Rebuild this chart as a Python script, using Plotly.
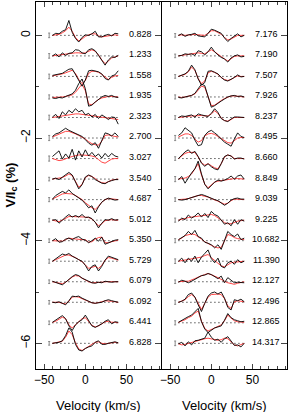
import plotly.graph_objects as go
from plotly.subplots import make_subplots

velocity = [-40, -36, -32, -28, -24, -20, -16, -12, -8, -4, 0, 4, 8, 12, 16, 20, 24, 28, 32, 36, 40]

left_labels = ["0.828", "1.233", "1.558", "1.935", "2.323", "2.700", "3.027", "3.540",
               "4.687", "5.012", "5.350", "5.729", "6.079", "6.092", "6.441", "6.828"]
right_labels = ["7.176", "7.190", "7.507", "7.926", "8.237", "8.495", "8.660", "8.849",
                "9.039", "9.225", "10.682", "11.390", "12.127", "12.496", "12.865", "14.317"]

left_obs = [
    [0, .04, .03, .08, .11, .29, .06, -.06, -.13, -.04, .01, 0, .03, .08, -.03, -.03, 0, .02, -.01, .04, .03],
    [0, .04, -.02, .06, .01, .05, .06, .12, .11, .06, .04, .12, .14, .10, .01, -.08, -.18, -.08, -.02, -.03, .01],
    [.02, .03, .05, .06, .10, .14, .15, .03, -.10, -.19, -.07, .11, .12, .11, .09, .05, -.04, -.07, .01, .03, .11],
    [-.02, -.03, -.01, -.02, .01, .03, .06, .13, .26, .35, .16, -.18, -.16, -.10, -.05, 0, .03, .01, .03, 0, -.01],
    [.01, .06, -.02, .11, .05, .14, .09, .17, .11, .14, .05, .08, .01, .06, -.02, .05, .01, -.04, .01, 0, -.13],
    [.03, .08, .10, .14, .19, .15, .12, .09, .06, .03, -.03, -.10, -.14, -.09, -.20, -.04, .10, .08, .04, .10, .03],
    [.04, .10, .15, -.01, .09, .01, .18, -.03, .15, .03, .17, .05, .12, .04, .09, .01, .10, .03, .10, .05, .03],
    [0, .02, -.01, .04, .08, .13, .08, -.06, -.19, -.11, .04, .08, .05, -.01, -.05, -.08, -.09, -.05, -.03, -.01, -.01],
    [.01, .08, .12, .16, .13, .19, .12, .08, .03, -.01, -.08, -.16, -.12, -.26, -.14, -.05, 0, .03, .01, -.01, 0],
    [0, .01, -.06, .01, .06, .11, .06, .09, .06, .11, .05, .06, .03, -.04, -.15, -.06, .01, 0, .03, 0, .01],
    [0, .04, -.03, -.02, .03, .05, .02, .06, .08, .03, .01, -.04, 0, .05, -.01, .07, -.07, -.04, -.02, .01, .02],
    [0, .05, .10, .14, .12, .15, .10, .06, .03, 0, -.08, -.19, -.10, -.07, -.19, -.10, .02, .10, .08, .06, .03],
    [.01, -.01, -.03, -.06, -.01, .05, .10, .14, .12, .07, .04, 0, -.02, -.03, -.01, -.02, .01, 0, -.01, 0, 0],
    [0, -.01, .01, -.02, -.05, .03, .12, .11, .12, .08, .05, .01, -.01, -.02, -.01, 0, .03, .05, .03, .01, 0],
    [.01, .05, .10, .14, .08, -.06, -.15, -.04, .02, .06, .15, .04, -.06, -.09, -.06, -.02, .03, .06, -.02, .02, .01],
    [0, .01, .02, .05, .15, .30, .22, -.02, -.13, -.15, -.10, -.07, -.05, .02, .05, -.02, -.02, 0, .02, .03, .01],
]
left_mod = [
    [0, .01, .02, .05, .09, .16, .08, -.04, -.11, -.07, -.02, .01, .03, .03, -.01, -.03, -.02, 0, .01, .01, 0],
    [0, .01, .01, .02, .03, .04, .05, .06, .06, .05, .06, .09, .12, .09, .02, -.08, -.15, -.10, -.04, -.02, 0],
    [.01, .02, .03, .05, .07, .10, .12, .06, -.06, -.14, -.08, .06, .10, .10, .08, .04, -.02, -.06, -.02, .01, .02],
    [-.01, -.01, 0, 0, .01, .02, .04, .09, .18, .25, .12, -.14, -.15, -.09, -.05, -.02, 0, .01, .01, 0, 0],
    [0, .01, .02, .03, .05, .06, .07, .07, .07, .06, .05, .04, .03, .02, .01, 0, -.01, -.02, -.02, -.03, -.04],
    [.02, .05, .08, .11, .13, .13, .11, .08, .05, .02, -.02, -.07, -.11, -.13, -.14, -.06, .05, .06, .04, .03, .02],
    [0, -.02, -.04, -.03, 0, .02, .04, .06, .07, .07, .07, .06, .05, .03, -.02, -.07, -.09, -.05, -.01, 0, 0],
    [0, .01, .01, .03, .06, .10, .07, -.04, -.16, -.10, .03, .07, .05, .01, -.04, -.07, -.08, -.05, -.02, -.01, 0],
    [.01, .04, .08, .11, .12, .12, .11, .08, .04, 0, -.06, -.12, -.16, -.19, -.13, -.05, 0, .02, .01, 0, 0],
    [0, -.01, -.03, 0, .04, .07, .07, .07, .07, .07, .06, .05, .02, -.04, -.11, -.07, -.01, 0, .01, 0, 0],
    [0, 0, -.01, -.01, .02, .05, .04, .03, .03, .02, .02, -.03, -.02, .03, .06, .07, -.04, -.04, -.02, 0, .01],
    [0, .03, .07, .10, .12, .12, .10, .07, .03, -.01, -.07, -.14, -.12, -.10, -.14, -.08, .02, .07, .06, .04, .02],
    [0, -.01, -.03, -.04, -.01, .04, .09, .12, .11, .07, .03, 0, -.02, -.02, -.02, -.01, 0, 0, 0, 0, 0],
    [0, 0, 0, -.02, -.03, .02, .10, .11, .10, .07, .04, .01, -.01, -.02, -.01, .01, .03, .03, .02, .01, 0],
    [.01, .03, .07, .11, .08, -.04, -.10, -.04, .03, .08, .10, .03, -.05, -.08, -.06, -.02, .02, .03, .01, .01, 0],
    [0, .01, .02, .04, .12, .24, .17, .01, -.11, -.14, -.10, -.06, -.03, .02, .03, 0, -.01, 0, .01, .02, .01],
]

right_obs = [
    [0, .03, -.02, .01, .02, .04, -.01, -.02, -.03, .04, .12, .10, .07, .04, -.05, -.12, -.06, -.02, .03, -.03, 0],
    [0, .01, .04, .03, .04, .01, .10, .08, .02, .08, .17, .08, .02, -.03, -.06, -.12, -.04, 0, .02, -.02, -.01],
    [0, .02, .05, .10, .22, .13, -.05, -.17, -.12, .10, .11, .08, .05, -.02, -.07, -.09, -.06, -.02, .03, -.01, 0],
    [-.01, -.02, 0, .01, .03, .07, .15, .25, .22, .02, -.20, -.17, -.12, -.08, -.04, 0, .02, .03, .01, .02, 0],
    [0, .03, .02, .04, .05, .01, .07, .05, .03, .02, .08, .17, .10, -.02, -.06, -.08, -.03, .01, .01, 0, 0],
    [.05, .10, .20, .15, .10, -.04, -.15, -.13, .05, .12, .15, .10, .05, -.02, -.08, -.12, -.16, -.02, .10, .03, .01],
    [0, .07, .13, .17, .10, .14, .04, -.09, -.15, -.10, -.16, -.20, -.22, -.10, .04, .07, .05, -.01, .01, .01, -.01],
    [-.01, .05, -.08, .03, .12, .20, .35, .10, -.10, -.19, -.12, -.06, -.02, -.04, -.02, .01, .06, 0, .06, .08, 0],
    [0, -.01, 0, .02, .04, .06, .09, .10, .08, .05, .03, 0, -.02, -.06, -.11, -.07, -.01, .02, .03, .01, .01],
    [-.02, .04, .01, .10, .04, .08, .14, .06, .13, .05, .17, .11, .08, 0, -.08, -.05, -.11, .01, -.08, .01, -.02],
    [.02, .06, .10, .18, .12, .20, .08, .05, -.03, -.05, -.08, -.14, -.08, -.17, .02, .18, .12, .08, .13, .02, .05],
    [0, .06, -.03, .06, 0, .10, -.03, .08, .15, .22, .05, -.03, .06, -.10, -.13, -.03, 0, -.06, .03, -.03, 0],
    [-.01, .03, .01, -.02, .01, .05, .08, .12, .13, .16, .14, .10, .06, .11, -.02, .08, .03, -.02, -.01, -.02, -.02],
    [0, .02, .06, .15, .18, .10, -.05, -.18, -.02, .12, .18, .20, .16, .20, .08, -.10, -.15, .05, .03, .06, .01],
    [.01, .05, .08, .12, .15, .22, .28, .02, -.12, -.19, -.14, -.10, -.08, -.06, .05, .18, .10, .06, .04, .02, .03],
    [-.01, .02, -.05, .03, -.03, .05, .06, .08, .10, .22, .12, .06, .08, .02, .09, .13, .05, -.04, -.03, -.07, 0],
]
right_mod = [
    [0, .01, 0, .01, .01, .02, .01, 0, 0, .04, .09, .09, .06, .02, -.04, -.09, -.07, -.03, 0, 0, 0],
    [0, .01, .02, .03, .03, .04, .06, .05, .04, .08, .12, .08, .03, -.02, -.06, -.10, -.06, -.01, 0, 0, 0],
    [0, .02, .04, .09, .18, .12, -.04, -.14, -.09, .07, .10, .08, .04, -.02, -.06, -.08, -.06, -.02, .01, 0, 0],
    [0, -.01, 0, .01, .03, .06, .13, .21, .19, .02, -.17, -.16, -.11, -.07, -.03, 0, .02, .02, .01, .01, 0],
    [0, .01, .02, .03, .03, .03, .04, .04, .03, .03, .07, .13, .08, -.01, -.06, -.07, -.04, 0, 0, 0, 0],
    [.02, .05, .08, .08, .05, -.02, -.08, -.05, .04, .08, .09, .07, .03, -.02, -.06, -.09, -.10, -.05, 0, .01, .01],
    [0, .05, .10, .12, .12, .12, .03, -.08, -.13, -.10, -.14, -.18, -.20, -.10, .03, .07, .05, 0, 0, 0, 0],
    [0, .01, .02, .05, .10, .20, .30, .08, -.10, -.17, -.11, -.06, -.04, -.03, -.02, 0, .01, .01, .01, .01, 0],
    [0, 0, .01, .02, .04, .06, .08, .08, .07, .05, .02, 0, -.03, -.06, -.09, -.07, -.02, .01, .01, .01, 0],
    [0, .02, .04, .05, .06, .07, .08, .08, .09, .10, .11, .09, .05, 0, -.05, -.07, -.07, -.04, -.02, -.01, 0],
    [.02, .05, .10, .12, .13, .12, .08, .03, -.02, -.06, -.09, -.12, -.14, -.13, 0, .12, .10, .06, .04, .03, .02],
    [0, .01, .02, .03, .04, .05, .06, .08, .11, .13, .07, .01, -.04, -.09, -.11, -.07, -.03, -.02, -.01, 0, 0],
    [0, .01, .01, .01, .03, .06, .09, .12, .14, .16, .14, .11, .08, .04, .01, -.02, -.04, -.05, -.03, -.01, 0],
    [0, .02, .05, .11, .15, .10, -.03, -.14, -.02, .10, .15, .16, .16, .15, .07, -.07, -.12, .01, .03, .02, .01],
    [.01, .03, .06, .10, .13, .19, .23, .03, -.11, -.16, -.13, -.09, -.07, -.04, .04, .15, .09, .04, .02, .01, .01],
    [-.01, -.03, -.02, 0, .01, .03, .05, .07, .09, .10, .09, .07, .06, .07, .10, .09, .03, -.03, -.05, -.03, 0],
]

left_err = [0.045, 0.045, 0.045, 0.04, 0.045, 0.05, 0.05, 0.035, 0.04, 0.035, 0.035, 0.04, 0.035, 0.035, 0.035, 0.035]
right_err = [0.035, 0.035, 0.035, 0.04, 0.035, 0.05, 0.035, 0.05, 0.035, 0.04, 0.04, 0.045, 0.035, 0.04, 0.04, 0.045]

STEP = 0.4
ERR_V = -44
LABEL_V = 67
FONT = "Liberation Sans, Arial, sans-serif"

fig = make_subplots(rows=1, cols=2, shared_yaxes=True, horizontal_spacing=0.004)

for col, obs_set, mod_set, labels, errs in [
    (1, left_obs, left_mod, left_labels, left_err),
    (2, right_obs, right_mod, right_labels, right_err),
]:
    xs_base, ys_base, xs_mod, ys_mod, xs_obs, ys_obs = [], [], [], [], [], []
    err_y, err_x, err_v = [], [], []
    for i, (obs, mod) in enumerate(zip(obs_set, mod_set)):
        off = -STEP * i
        xs_base += [velocity[0], velocity[-1], None]
        ys_base += [off, off, None]
        xs_mod += velocity + [None]
        ys_mod += [off + m for m in mod] + [None]
        xs_obs += velocity + [None]
        ys_obs += [off + o for o in obs] + [None]
        err_x.append(ERR_V)
        err_y.append(off)
        err_v.append(errs[i])
        fig.add_annotation(x=LABEL_V, y=off + 0.03, text=labels[i], showarrow=False,
                           xanchor="center", yanchor="middle",
                           font=dict(size=9, color="black", family=FONT),
                           row=1, col=col)
    fig.add_trace(go.Scatter(x=xs_base, y=ys_base, mode="lines",
                             line=dict(color="black", width=1, dash="1px,3px"),
                             hoverinfo="skip", showlegend=False), row=1, col=col)
    fig.add_trace(go.Scatter(x=xs_mod, y=ys_mod, mode="lines",
                             line=dict(color="#ff3030", width=0.9),
                             showlegend=False), row=1, col=col)
    fig.add_trace(go.Scatter(x=xs_obs, y=ys_obs, mode="lines",
                             line=dict(color="black", width=0.9),
                             showlegend=False), row=1, col=col)
    fig.add_trace(go.Scatter(x=err_x, y=err_y, mode="markers",
                             marker=dict(size=1, color="rgba(0,0,0,0)"),
                             error_y=dict(type="data", array=err_v, visible=True,
                                          color="#888888", thickness=1, width=1),
                             showlegend=False), row=1, col=col)

axis_font = dict(family=FONT, size=12, color="black")
for col in (1, 2):
    fig.update_xaxes(range=[-60, 92], tickvals=[-50, 0, 50], ticks="inside", ticklen=5,
                     showline=True, linecolor="black", linewidth=1, mirror="ticks",
                     showgrid=False, zeroline=False, tickfont=axis_font, automargin=False,
                     minor=dict(dtick=10, tick0=0, ticks="inside", ticklen=3, showgrid=False),
                     row=1, col=col)
    fig.add_annotation(text="Velocity (km/s)", xref=f"x{'' if col == 1 else col} domain",
                       yref="paper", x=0.5, y=0, xanchor="center", yanchor="middle",
                       yshift=-36, showarrow=False,
                       font=dict(family=FONT, size=13, color="black"))

fig.update_yaxes(range=[-6.5, 0.65], tickvals=[0, -2, -4, -6], ticks="inside", ticklen=6,
                 showline=True, linecolor="black", linewidth=1, mirror="ticks",
                 showgrid=False, zeroline=False, tickfont=axis_font, tickangle=-90,
                 automargin=False,
                 minor=dict(dtick=1, tick0=0, ticks="inside", ticklen=3, showgrid=False),
                 row=1, col=1)
fig.update_yaxes(range=[-6.5, 0.65], tickvals=[0, -2, -4, -6], ticks="inside", ticklen=6,
                 side="right", showticklabels=False,
                 showline=True, linecolor="black", linewidth=1, mirror=True,
                 showgrid=False, zeroline=False, automargin=False,
                 minor=dict(dtick=1, tick0=0, ticks="inside", ticklen=3, showgrid=False),
                 row=1, col=2)
fig.add_annotation(text="<b>V/I<sub>c</sub> (%)</b>", xref="paper", yref="paper",
                   x=0, y=0.5, xanchor="center", yanchor="middle", xshift=-25,
                   textangle=-90, showarrow=False,
                   font=dict(family=FONT, size=13, color="black"))

fig.update_layout(width=288, height=412, margin=dict(l=36, r=1, t=2, b=43, autoexpand=False),
                  paper_bgcolor="white", plot_bgcolor="white", showlegend=False)

fig.write_html("out.html", config={"displayModeBar": False},
               post_script="document.body.style.margin='0';document.body.style.padding='0';")
